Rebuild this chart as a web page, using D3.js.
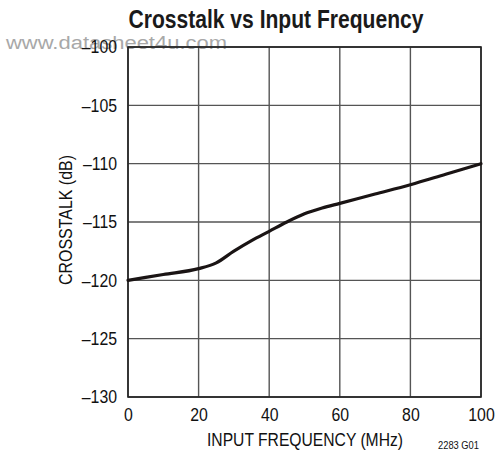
<!DOCTYPE html>
<html>
<head>
<meta charset="utf-8">
<script src="https://cdn.jsdelivr.net/npm/d3@7"></script>
<style>
  body { margin: 0; background: #fff; }
  svg text { font-family: "Liberation Sans", Arial, sans-serif; }
</style>
</head>
<body>
<div id="chart"></div>
<script>
// data
var freq = [0, 10, 20, 25, 30, 35, 40, 45, 50, 55, 60, 70, 80, 90, 100];
var crosstalk = [-120, -119.5, -119, -118.5, -117.5, -116.6, -115.8, -115, -114.3, -113.8, -113.4, -112.6, -111.8, -110.9, -110];
var xTicks = [0, 20, 40, 60, 80, 100];
var yTicks = [-130, -125, -120, -115, -110, -105, -100];

var W = 495, H = 458;
var margin = {top: 47, left: 128, right: 14, bottom: 61};
var width = W - margin.left - margin.right,
    height = H - margin.top - margin.bottom;

// squeeze text horizontally, the original uses a condensed face
function condense(sel, k) {
  sel.each(function() {
    var len = this.getComputedTextLength();
    d3.select(this)
      .attr("textLength", len * k)
      .attr("lengthAdjust", "spacingAndGlyphs");
  });
}

var svg = d3.select("#chart").append("svg")
  .attr("width", W)
  .attr("height", H);

// watermark (sits behind the plot)
svg.append("text")
  .attr("x", 6).attr("y", 49)
  .attr("textLength", 221)
  .attr("lengthAdjust", "spacingAndGlyphs")
  .style("font-size", "18px")
  .style("fill", "#a8a8a8")
  .text("www.datasheet4u.com");

var x = d3.scaleLinear().domain([0, 100]).range([0, width]);
var y = d3.scaleLinear().domain([-130, -100]).range([height, 0]);

var g = svg.append("g")
  .attr("transform", "translate(" + margin.left + "," + margin.top + ")");

// grid
g.selectAll(".vgrid")
  .data(xTicks)
  .enter().append("line")
  .attr("x1", function(d) { return x(d); })
  .attr("x2", function(d) { return x(d); })
  .attr("y1", 0).attr("y2", height)
  .style("stroke", "#555")
  .style("stroke-width", 1.4);

g.selectAll(".hgrid")
  .data(yTicks)
  .enter().append("line")
  .attr("y1", function(d) { return y(d); })
  .attr("y2", function(d) { return y(d); })
  .attr("x1", 0).attr("x2", width)
  .style("stroke", "#555")
  .style("stroke-width", 1.4);

// frame
g.append("rect")
  .attr("width", width).attr("height", height)
  .style("fill", "none")
  .style("stroke", "#222")
  .style("stroke-width", 1.6);

// axes (labels only)
var xAxis = g.append("g")
  .attr("transform", "translate(0," + height + ")")
  .call(d3.axisBottom(x).tickValues(xTicks).tickSize(0).tickPadding(11));
var yAxis = g.append("g")
  .call(d3.axisLeft(y).tickValues(yTicks).tickSize(0).tickPadding(11)
    .tickFormat(function(d) { return "\u2013" + Math.abs(d); }));

[xAxis, yAxis].forEach(function(a) {
  a.select(".domain").remove();
  a.selectAll("text")
    .style("font-family", "'Liberation Sans', Arial, sans-serif")
    .style("font-size", "18px")
    .style("fill", "#111");
  condense(a.selectAll("text"), 0.88);
});

// curve
var line = d3.line()
  .x(function(d, i) { return x(freq[i]); })
  .y(function(d) { return y(d); })
  .curve(d3.curveMonotoneX);

g.append("path")
  .datum(crosstalk)
  .attr("d", line)
  .style("fill", "none")
  .style("stroke", "#1a1414")
  .style("stroke-width", 3.2)
  .style("stroke-linecap", "round");

// title
svg.append("text")
  .attr("x", 276).attr("y", 28)
  .attr("text-anchor", "middle")
  .attr("textLength", 295)
  .attr("lengthAdjust", "spacingAndGlyphs")
  .style("font-size", "25px")
  .style("font-weight", "bold")
  .style("fill", "#1a1a1a")
  .text("Crosstalk vs Input Frequency");

// axis titles
svg.append("text")
  .attr("x", 305).attr("y", 446)
  .attr("text-anchor", "middle")
  .attr("textLength", 196)
  .attr("lengthAdjust", "spacingAndGlyphs")
  .style("font-size", "19px")
  .style("fill", "#111")
  .text("INPUT FREQUENCY (MHz)");

svg.append("text")
  .attr("transform", "translate(72,220) rotate(-90)")
  .attr("text-anchor", "middle")
  .attr("textLength", 130)
  .attr("lengthAdjust", "spacingAndGlyphs")
  .style("font-size", "18px")
  .style("fill", "#111")
  .text("CROSSTALK (dB)");

svg.append("text")
  .attr("x", 479).attr("y", 449)
  .attr("text-anchor", "end")
  .attr("textLength", 41)
  .attr("lengthAdjust", "spacingAndGlyphs")
  .style("font-size", "11px")
  .style("fill", "#111")
  .text("2283 G01");
</script>
</body>
</html>
